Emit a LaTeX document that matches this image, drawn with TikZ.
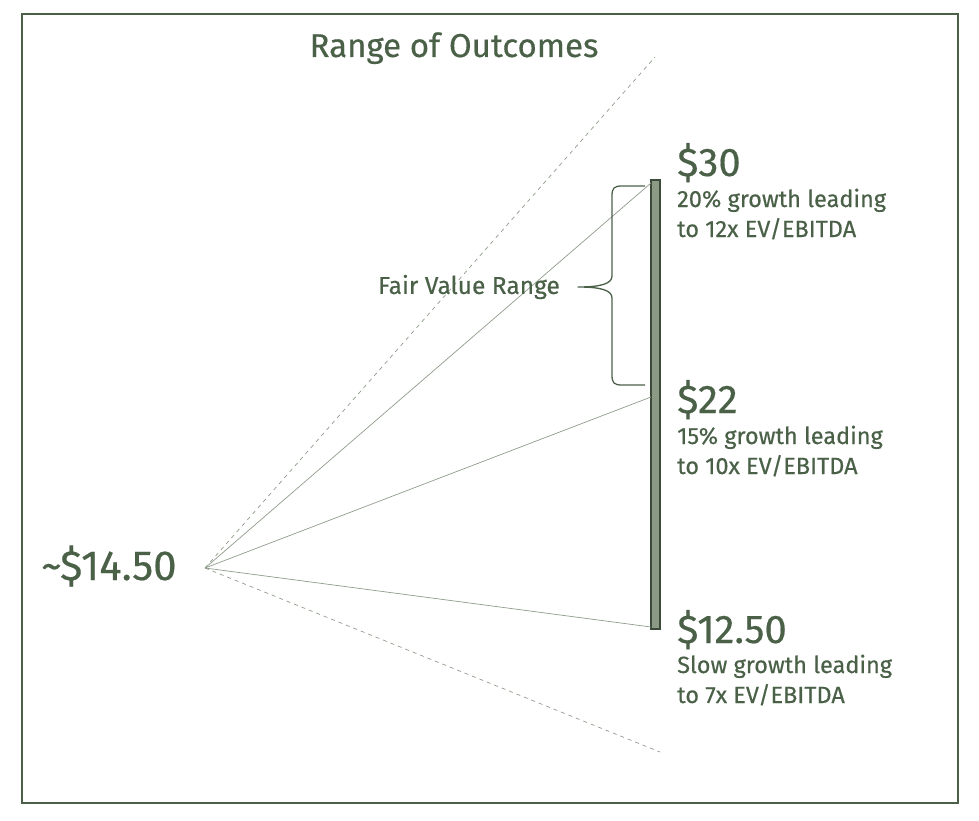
\documentclass[tikz,border=0pt]{standalone}
\usepackage{fontspec}
\setmainfont{Fira Sans}[FakeBold=0.4]
\usetikzlibrary{decorations.pathreplacing}
\definecolor{txtgreen}{HTML}{4A6148}
\definecolor{barfill}{HTML}{8A9A84}
\definecolor{bardraw}{HTML}{3C4A3A}
\definecolor{linegray}{HTML}{8E9C8A}
\tikzset{
  lbl/.style={text=txtgreen, inner sep=0pt, anchor=base west},
  bigval/.style={lbl, font=\fontsize{40}{44}\selectfont},
  desc/.style={lbl, font=\fontsize{23.5}{30}\selectfont, align=left},
  ray/.style={draw=linegray, line width=0.7pt},
  dashray/.style={draw=linegray, line width=0.7pt, dash pattern=on 4pt off 4pt},
}
\begin{document}
\begin{tikzpicture}[x=1pt,y=-1pt]
\useasboundingbox (0,0) rectangle (979,821);
\draw[txtgreen, line width=1.2pt] (22,14) rectangle (958,803);
\node[text=txtgreen, inner sep=0pt, anchor=base, font=\fontsize{33}{38}\selectfont] (title) at (454,57) {Range of Outcomes};
\coordinate (o) at (205,568);
\coordinate (dtop) at (655,57);
\coordinate (dbot) at (660,752);
\node[draw=bardraw, fill=barfill, line width=1.2pt, minimum width=9pt, minimum height=449pt, inner sep=0pt] (bar) at (655.5,404.5) {};
\coordinate (p30) at (651,183);
\coordinate (p22) at (651,397);
\coordinate (p12) at (651,627);
\draw[dashray] (o) -- (dtop);
\draw[dashray] (o) -- (dbot);
\draw[ray] (o) -- (p30);
\draw[ray] (o) -- (p22);
\draw[ray] (o) -- (p12);
\node[lbl, font=\fontsize{42}{46}\selectfont] (cur) at (41,580) {\textasciitilde\$14.50};
% curly brace
\coordinate (btop) at (645,186);
\coordinate (bbot) at (645,385);
\coordinate (btip) at (578,287);
\draw[txtgreen, line width=1.3pt, line join=round]
  (btop) -- (622,186) .. controls (614,186) and (612,188) .. (612,196)
  -- (612,276) .. controls (612,284) and (600,287) .. (btip)
  .. controls (600,287) and (612,290) .. (612,298)
  -- (612,375) .. controls (612,383) and (614,385) .. (622,385) -- (bbot);
\node[lbl, anchor=east, font=\fontsize{24.5}{28}\selectfont] (fvr) at (560,287) {Fair Value Range};
\node[bigval] (v30) at (677,176) {\$30};
\node[desc] (d30) at (677,237) {20\% growth leading\\to 12x EV/EBITDA};
\node[bigval] (v22) at (677,413) {\$22};
\node[desc] (d22) at (677,474) {15\% growth leading\\to 10x EV/EBITDA};
\node[bigval] (v12) at (677,643) {\$12.50};
\node[desc] (d12) at (677,703) {Slow growth leading\\to 7x EV/EBITDA};
\end{tikzpicture}
\end{document}
